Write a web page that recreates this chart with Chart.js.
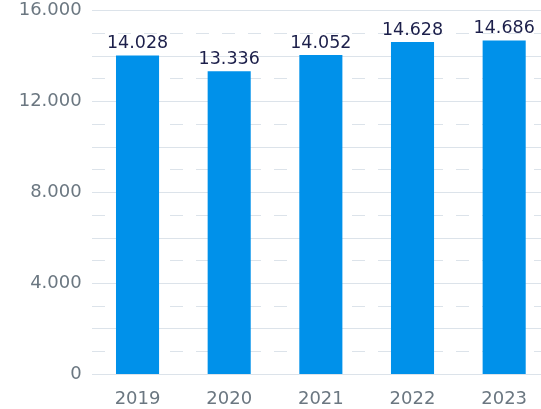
<!DOCTYPE html>
<html>
<head>
<meta charset="utf-8">
<script src="https://cdn.jsdelivr.net/npm/chart.js@4/dist/chart.umd.min.js"></script>
<style>
  html, body { margin: 0; padding: 0; background: #fff; overflow: hidden; }
  #wrap { width: 550px; height: 409px; }
</style>
</head>
<body>
<div id="wrap"><canvas id="chart"></canvas></div>
<script>
let years = ['2019', '2020', '2021', '2022', '2023'];
let values = [14028, 13336, 14052, 14628, 14686];
let yMax = 16000;
let yStep = 1000;
let labelStep = 4000;

let fmt = function(v) {
  return String(v).replace(/\B(?=(\d{3})+(?!\d))/g, '.');
};

// draw the value above each bar
let valueLabels = {
  id: 'valueLabels',
  afterDatasetsDraw: function(chart) {
    let ctx = chart.ctx;
    let meta = chart.getDatasetMeta(0);
    ctx.save();
    ctx.font = '17.5px "DejaVu Sans"';
    ctx.fillStyle = '#1c1f4a';
    ctx.textAlign = 'center';
    ctx.textBaseline = 'bottom';
    meta.data.forEach(function(bar, i) {
      ctx.fillText(fmt(values[i]), bar.x, bar.y - 3);
    });
    ctx.restore();
  }
};

let chart = new Chart(document.getElementById('chart'), {
  type: 'bar',
  data: {
    labels: years,
    datasets: [{
      data: values,
      backgroundColor: '#0091ea',
      borderWidth: 0,
      barPercentage: 0.47,
      categoryPercentage: 1
    }]
  },
  options: {
    responsive: true,
    maintainAspectRatio: false,
    animation: false,
    layout: { padding: { top: 10.7, right: 0, bottom: -15, left: 0 } },
    plugins: {
      legend: { display: false },
      tooltip: { enabled: false }
    },
    scales: {
      x: {
        grid: { display: false, drawTicks: false },
        border: { display: false },
        ticks: {
          color: '#6b7781',
          font: { family: 'DejaVu Sans', size: 18, lineHeight: 1.2 },
          padding: 14
        }
      },
      y: {
        min: 0,
        max: yMax,
        afterFit: function(scale) {
          scale.width = 91.7;
          scale.paddingTop = 0;
          scale.paddingBottom = 0;
        },
        grid: {
          drawTicks: false,
          color: '#dce3ea',
          lineWidth: 1
        },
        border: {
          display: false,
          dash: function(c) {
            if (!c.tick) return [];
            return (c.tick.value % 2000 === 0) ? [] : [13, 13];
          }
        },
        ticks: {
          stepSize: yStep,
          autoSkip: false,
          padding: 10,
          color: '#6b7781',
          font: { family: 'DejaVu Sans', size: 18, lineHeight: 1 },
          callback: function(v) {
            return (v % labelStep === 0) ? fmt(v) : '';
          }
        }
      }
    }
  },
  plugins: [valueLabels]
});
</script>
</body>
</html>
